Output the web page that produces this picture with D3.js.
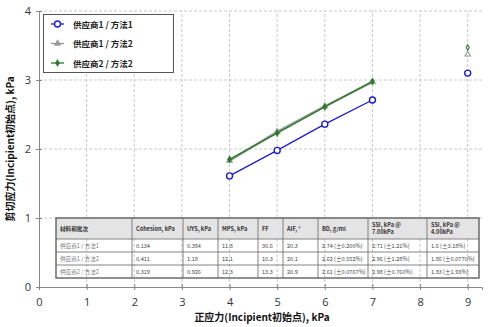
<!DOCTYPE html>
<html>
<head>
<meta charset="utf-8">
<script src="https://cdn.jsdelivr.net/npm/d3@7"></script>
<style>
  body { margin: 0; background: #fff; }
  svg { font-family: "Noto Sans CJK SC", "Noto Sans", sans-serif; }
</style>
</head>
<body>
<div id="chart"></div>
<script>
// normal stress (x) and shear stress per series
const xs = [4, 5, 6, 7];
const names = ["供应商1 / 方法1", "供应商1 / 方法2", "供应商2 / 方法2"];
const s1 = [1.61, 1.98, 2.36, 2.71];
const s2 = [1.83, 2.25, 2.62, 2.97];
const s3 = [1.85, 2.23, 2.61, 2.98];
const err1 = [0.02, 0.02, 0.05, 0.05];
const err3 = [0.03, 0.02, 0.02, 0.02];
// SSI @ 4kPa points at x = 9
const ssiX = 9;
const ssi = [3.10, 3.37, 3.47];

const xTicks = [0, 1, 2, 3, 4, 5, 6, 7, 8, 9];
const yTicks = [0, 1, 2, 3, 4];

const tableHead = ["材料和批次", "Cohesion, kPa", "UYS, kPa", "MPS, kPa", "FF", "AIF, °", "BD, g/ml", "SSI, kPa @\n7.00kPa", "SSI, kPa @\n4.00kPa"];
const tableRows = [
  ["供应商1 / 方法1", "0.134", "0.384", "11.8", "30.6", "20.3", "2.74 (±0.200%)", "2.71 (±1.21%)", "1.6 (±3.18%)"],
  ["供应商1 / 方法2", "0.411", "1.18", "12.1", "10.3", "20.1", "2.62 (±0.552%)", "2.96 (±1.28%)", "1.86 (±0.0770%)"],
  ["供应商2 / 方法2", "0.319", "0.926", "12.3", "13.3", "20.9", "2.61 (±0.0767%)", "2.98 (±0.760%)", "1.83 (±1.93%)"]
];
const colEdges = [56, 132, 183, 218, 258, 283, 318, 368, 427, 479];

const colors = ["#1c1cd6", "#999999", "#2a7a2a"];

const width = 491, height = 327;
const svg = d3.select("#chart").append("svg")
  .attr("width", width).attr("height", height);

const x = d3.scaleLinear().domain([0, 9.3]).range([39, 482]);
const y = d3.scaleLinear().domain([0, 4]).range([287, 11]);

// grid
const grid = svg.append("g").attr("stroke", "#c8c8c8").attr("stroke-dasharray", "3,2");
grid.selectAll(".gx").data(xTicks.slice(1)).join("line")
  .attr("x1", d => x(d)).attr("x2", d => x(d))
  .attr("y1", y(0)).attr("y2", y(4));
grid.selectAll(".gy").data(yTicks.slice(1)).join("line")
  .attr("x1", x(0)).attr("x2", x(9.3))
  .attr("y1", d => y(d)).attr("y2", d => y(d));

// axes
const xAxis = svg.append("g").attr("transform", `translate(0,${y(0)})`)
  .call(d3.axisBottom(x).tickValues(xTicks).tickSize(3).tickPadding(8).tickFormat(d3.format("d")));
const yAxis = svg.append("g").attr("transform", `translate(${x(0)},0)`)
  .call(d3.axisLeft(y).tickValues(yTicks).tickSize(3).tickPadding(5).tickFormat(d3.format("d")));
[xAxis, yAxis].forEach(a => {
  a.select(".domain").attr("stroke", "#888");
  a.selectAll(".tick line").attr("stroke", "#888");
  a.selectAll("text").attr("fill", "#333").style("font-size", "11px")
    .style("font-family", "'Open Sans', 'Noto Sans', sans-serif");
});
xAxis.selectAll(".tick line").attr("y1", -3);
yAxis.selectAll(".tick line").attr("x1", 3);

// table (drawn under the data)
const tTop = 218, headH = 21, rowH = 13;
const tbl = svg.append("g").style("font-size", "5.6px");
tbl.append("rect").attr("x", colEdges[0]).attr("y", tTop)
  .attr("width", colEdges[9] - colEdges[0]).attr("height", headH).attr("fill", "#e4e4e4");
tableHead.forEach((h, i) => {
  const lines = h.split("\n");
  lines.forEach((ln, k) => {
    tbl.append("text").attr("x", colEdges[i] + 4)
      .attr("y", tTop + (lines.length === 1 ? 12.5 : 8.5 + k * 7))
      .attr("fill", "#333").attr("font-weight", "bold").text(ln);
  });
});
tableRows.forEach((r, ri) => {
  r.forEach((c, ci) => {
    tbl.append("text").attr("x", colEdges[ci] + 4)
      .attr("y", tTop + headH + ri * rowH + 9)
      .attr("fill", ci === 0 ? "#777" : "#444").text(c);
  });
});
const tBottom = tTop + headH + tableRows.length * rowH;
colEdges.slice(1, -1).forEach(cx => {
  tbl.append("line").attr("x1", cx).attr("x2", cx).attr("y1", tTop).attr("y2", tBottom)
    .attr("stroke", "#666").attr("stroke-width", 0.8);
});
[tTop + headH, tTop + headH + rowH, tTop + headH + 2 * rowH].forEach(ry => {
  tbl.append("line").attr("x1", colEdges[0]).attr("x2", colEdges[9]).attr("y1", ry).attr("y2", ry)
    .attr("stroke", "#666").attr("stroke-width", 0.8);
});
tbl.append("rect").attr("x", colEdges[0]).attr("y", tTop)
  .attr("width", colEdges[9] - colEdges[0]).attr("height", tBottom - tTop)
  .attr("fill", "none").attr("stroke", "#555").attr("stroke-width", 1.3);

// series
const series = [
  { vals: s1, err: err1, color: colors[0], shape: "circle" },
  { vals: s2, err: null, color: colors[1], shape: "triangle" },
  { vals: s3, err: err3, color: colors[2], shape: "diamond" }
];
const line = d3.line().x(d => x(d[0])).y(d => y(d[1]));

function marker(g, shape, color, cx, cy, open) {
  if (shape === "circle") {
    g.append("circle").attr("cx", cx).attr("cy", cy).attr("r", 3)
      .attr("fill", "#fff").attr("stroke", color).attr("stroke-width", 1.4);
  } else {
    const sym = shape === "triangle" ? d3.symbolTriangle : d3.symbolDiamond;
    const size = open ? (shape === "triangle" ? 13 : 8) : (shape === "triangle" ? 18 : 14);
    g.append("path").attr("d", d3.symbol(sym, size)())
      .attr("transform", `translate(${cx},${cy})`)
      .attr("fill", open ? "#fff" : color).attr("stroke", color).attr("stroke-width", open ? 1.1 : 0.6);
  }
}

const plot = svg.append("g");
series.forEach(s => {
  const pts = xs.map((v, i) => [v, s.vals[i]]);
  plot.append("path").datum(pts).attr("d", line)
    .attr("fill", "none").attr("stroke", s.color).attr("stroke-width", s.shape === "triangle" ? 2.2 : 1.3);
  if (s.err) {
    pts.forEach((p, i) => {
      plot.append("line").attr("x1", x(p[0])).attr("x2", x(p[0]))
        .attr("y1", y(p[1] - s.err[i])).attr("y2", y(p[1] + s.err[i]))
        .attr("stroke", s.color).attr("stroke-width", 1.2);
    });
  }
  pts.forEach(p => marker(plot, s.shape, s.color, x(p[0]), y(p[1]), false));
});
series.forEach((s, i) => marker(plot, s.shape, s.color, x(ssiX), y(ssi[i]), true));

// legend
const lg = svg.append("g");
lg.append("rect").attr("x", 43.5).attr("y", 14.5).attr("width", 130).attr("height", 58)
  .attr("fill", "#fff").attr("stroke", "#555").attr("stroke-width", 1);
names.forEach((n, i) => {
  const ly = 24 + i * 19.5;
  lg.append("line").attr("x1", 51).attr("x2", 64).attr("y1", ly).attr("y2", ly)
    .attr("stroke", colors[i]).attr("stroke-width", 1.3);
  marker(lg, series[i].shape, colors[i], 57.5, ly, false);
  lg.append("text").attr("x", 73).attr("y", ly + 3.5).attr("fill", "#222")
    .attr("font-weight", "bold").style("font-size", "8.5px").text(n);
});

// axis titles
svg.append("text").attr("x", 262).attr("y", 321).attr("text-anchor", "middle")
  .attr("font-weight", "bold").style("font-size", "10px").attr("fill", "#111")
  .text("正应力(Incipient初始点), kPa");
svg.append("text").attr("transform", `translate(14,149) rotate(-90)`).attr("text-anchor", "middle")
  .attr("font-weight", "bold").style("font-size", "10px").attr("fill", "#111")
  .text("剪切应力(Incipient初始点), kPa");
</script>
</body>
</html>
